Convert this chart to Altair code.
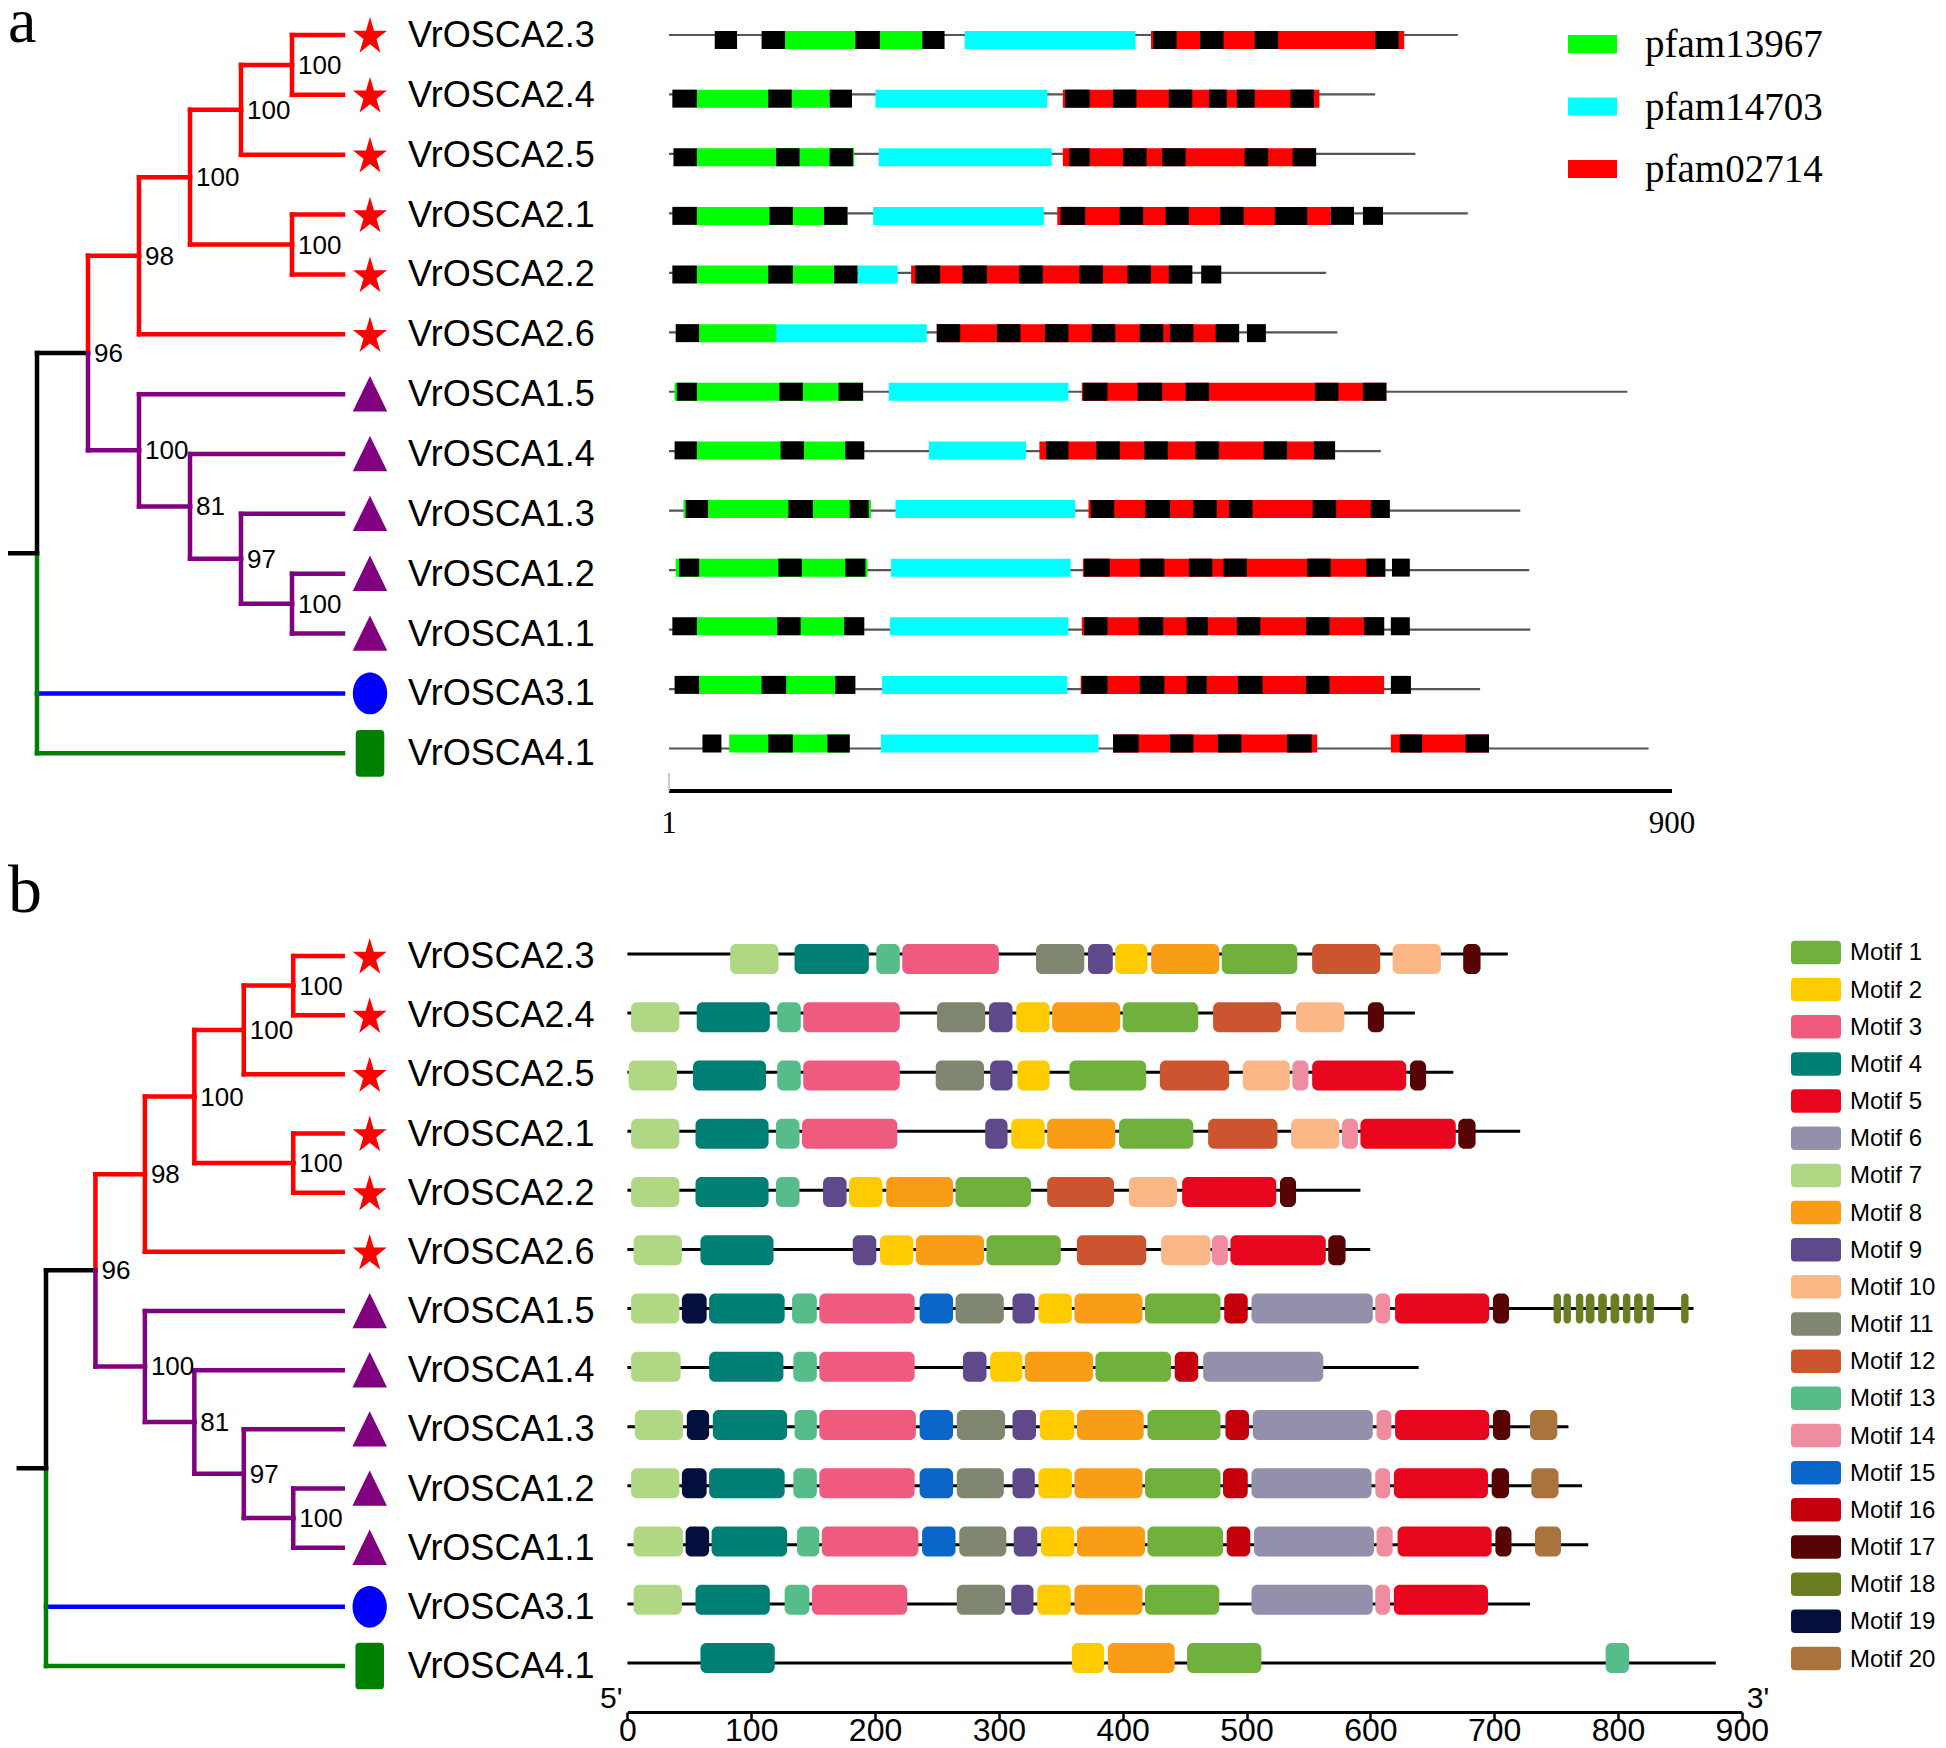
import math
import altair as alt
import pandas as pd

# ---------------- data ----------------
genes = ["VrOSCA2.3", "VrOSCA2.4", "VrOSCA2.5", "VrOSCA2.1", "VrOSCA2.2", "VrOSCA2.6",
         "VrOSCA1.5", "VrOSCA1.4", "VrOSCA1.3", "VrOSCA1.2", "VrOSCA1.1", "VrOSCA3.1", "VrOSCA4.1"]
gene_class = ["OSCA2"] * 6 + ["OSCA1"] * 5 + ["OSCA3", "OSCA4"]

# tree topology (same for both panels)
node_names = ["root", "n96", "n98", "n100a", "n100b", "n100c", "n100d", "n100e", "n81", "n97", "n100f"]
node_depths = [0, 1, 2, 3, 4, 5, 5, 2, 3, 4, 5]
node_children = [["n96", "VrOSCA3.1", "VrOSCA4.1"], ["n98", "n100e"], ["n100a", "VrOSCA2.6"],
                 ["n100b", "n100d"], ["n100c", "VrOSCA2.5"], ["VrOSCA2.3", "VrOSCA2.4"],
                 ["VrOSCA2.1", "VrOSCA2.2"], ["VrOSCA1.5", "n81"], ["VrOSCA1.4", "n97"],
                 ["VrOSCA1.3", "n100f"], ["VrOSCA1.2", "VrOSCA1.1"]]
node_support = [None, 96, 98, 100, 100, 100, 100, 100, 81, 97, 100]
node_clade = ["base", "base", "OSCA2", "OSCA2", "OSCA2", "OSCA2", "OSCA2", "OSCA1", "OSCA1", "OSCA1", "OSCA1"]
tip_depth = 6

# panel a: protein lengths and conserved domains (aa)
a_length = [708, 634, 670, 717, 590, 600, 860, 639, 764, 772, 773, 728, 879]
a_pf13967 = [[104, 228], [26, 145], [26, 167], [26, 161], [26, 149], [28, 97], [6, 174],
             [26, 176], [14, 182], [7, 179], [25, 176], [28, 168], [55, 163]]
a_pf14703 = [[266, 419], [186, 340], [189, 344], [184, 337], [170, 206], [97, 232], [198, 359],
             [234, 321], [204, 365], [200, 361], [199, 359], [192, 358], [191, 386]]
a_pf02714 = [[[433, 660]], [[354, 584]], [[354, 581]], [[349, 594]], [[218, 470]], [[241, 512]],
             [[371, 644]], [[333, 598]], [[377, 647]], [[372, 643]], [[371, 642]], [[370, 642]],
             [[399, 582], [648, 736]]]
a_black = [
    [[42, 62], [84, 105], [168, 190], [228, 248], [435, 456], [477, 498], [526, 547], [634, 655]],
    [[4, 26], [90, 111], [145, 165], [356, 378], [399, 420], [449, 470], [485, 501], [510, 526], [558, 579]],
    [[5, 26], [97, 118], [145, 166], [360, 378], [408, 429], [443, 464], [517, 538], [560, 581]],
    [[4, 26], [91, 112], [140, 161], [352, 374], [405, 426], [446, 467], [495, 516], [544, 573], [594, 615], [623, 641]],
    [[4, 26], [90, 112], [149, 170], [222, 244], [264, 286], [315, 336], [369, 390], [412, 433], [449, 470], [478, 496]],
    [[7, 28], [241, 262], [295, 316], [338, 359], [380, 401], [423, 444], [450, 471], [491, 512], [519, 536]],
    [[8, 26], [100, 121], [153, 175], [372, 394], [421, 443], [464, 485], [580, 601], [623, 644]],
    [[6, 26], [101, 122], [159, 176], [339, 359], [384, 405], [427, 448], [473, 494], [534, 555], [579, 598]],
    [[16, 36], [108, 130], [163, 180], [379, 400], [428, 450], [471, 492], [503, 524], [578, 599], [630, 647]],
    [[10, 28], [99, 120], [159, 177], [373, 396], [423, 445], [467, 488], [498, 519], [573, 594], [626, 643], [649, 665]],
    [[4, 26], [98, 119], [158, 176], [373, 394], [422, 444], [465, 484], [510, 531], [572, 593], [624, 642], [648, 665]],
    [[6, 28], [84, 106], [150, 168], [371, 394], [423, 445], [465, 483], [511, 533], [572, 593], [648, 666]],
    [[31, 48], [90, 112], [143, 163], [399, 422], [450, 471], [493, 514], [555, 577], [656, 676], [715, 736]],
]
pfam_names = ["pfam13967", "pfam14703", "pfam02714"]
a_scale_ticks = [1, 900]

# panel b: motifs (motif number, start, end)
b_length = [711, 636, 667, 721, 592, 600, 861, 639, 760, 771, 776, 729, 879]
mot_2_3 = [(7, 83, 122), (4, 135, 195), (13, 201, 220), (3, 222, 300), (11, 330, 369), (9, 372, 392),
           (2, 394, 420), (8, 423, 478), (1, 480, 541), (12, 553, 608), (10, 618, 657), (17, 675, 689)]
mot_2_4 = [(7, 3, 42), (4, 56, 115), (13, 121, 140), (3, 142, 220), (11, 250, 289), (9, 292, 311),
           (2, 314, 341), (8, 343, 398), (1, 400, 461), (12, 473, 528), (10, 540, 579), (17, 598, 611)]
mot_2_5 = [(7, 1, 40), (4, 53, 112), (13, 121, 140), (3, 142, 220), (11, 249, 288), (9, 293, 311),
           (2, 315, 341), (1, 357, 419), (12, 430, 486), (10, 497, 535), (14, 537, 550), (5, 553, 629),
           (17, 632, 645)]
mot_2_1 = [(7, 3, 42), (4, 55, 114), (13, 120, 139), (3, 141, 218), (9, 289, 307), (2, 310, 337),
           (8, 339, 394), (1, 397, 457), (12, 469, 525), (10, 536, 575), (14, 577, 590), (5, 592, 669),
           (17, 671, 685)]
mot_2_2 = [(7, 3, 42), (4, 55, 114), (13, 120, 139), (9, 158, 177), (2, 179, 206), (8, 209, 263),
           (1, 265, 326), (12, 339, 393), (10, 405, 444), (5, 448, 524), (17, 527, 540)]
mot_2_6 = [(7, 5, 44), (4, 59, 118), (9, 182, 201), (2, 204, 231), (8, 233, 288), (1, 290, 350),
           (12, 363, 419), (10, 431, 471), (14, 472, 485), (5, 487, 564), (17, 566, 580)]
mot_1_5 = [(7, 3, 42), (19, 44, 64), (4, 66, 127), (13, 133, 153), (3, 155, 232), (15, 236, 263),
           (11, 265, 304), (9, 311, 329), (2, 332, 359), (8, 361, 416), (1, 418, 479), (16, 482, 501),
           (6, 504, 602), (14, 604, 616), (5, 620, 696), (17, 699, 712),
           (18, 748, 754), (18, 756, 762), (18, 766, 772), (18, 774, 781), (18, 784, 791),
           (18, 794, 801), (18, 804, 810), (18, 813, 820), (18, 823, 829), (18, 851, 857)]
mot_1_4 = [(7, 3, 43), (4, 66, 126), (13, 134, 153), (3, 155, 232), (9, 271, 290), (2, 293, 319),
           (8, 321, 376), (1, 378, 439), (16, 442, 461), (6, 465, 562)]
mot_1_3 = [(7, 6, 45), (19, 48, 66), (4, 69, 129), (13, 135, 153), (3, 155, 233), (15, 236, 263),
           (11, 266, 305), (9, 311, 330), (2, 333, 361), (8, 363, 417), (1, 420, 479), (16, 483, 502),
           (6, 505, 602), (14, 605, 617), (5, 620, 696), (17, 699, 713), (20, 729, 751)]
mot_1_2 = [(7, 3, 42), (19, 44, 64), (4, 66, 127), (13, 134, 153), (3, 155, 232), (15, 236, 263),
           (11, 266, 304), (9, 311, 329), (2, 332, 359), (8, 361, 416), (1, 418, 479), (16, 481, 501),
           (6, 504, 601), (14, 604, 616), (5, 619, 695), (17, 698, 712), (20, 730, 752)]
mot_1_1 = [(7, 5, 45), (19, 47, 66), (4, 68, 129), (13, 137, 155), (3, 157, 235), (15, 238, 265),
           (11, 268, 306), (9, 312, 331), (2, 334, 361), (8, 363, 418), (1, 420, 481), (16, 484, 503),
           (6, 506, 603), (14, 605, 618), (5, 622, 698), (17, 701, 714), (20, 733, 754)]
mot_3_1 = [(7, 5, 44), (4, 55, 115), (13, 127, 147), (3, 149, 226), (11, 266, 305), (9, 310, 328),
           (2, 331, 358), (8, 361, 416), (1, 418, 478), (6, 504, 602), (14, 604, 616), (5, 619, 695)]
mot_4_1 = [(4, 59, 119), (2, 359, 385), (8, 388, 442), (1, 452, 512), (13, 790, 809)]
b_motifs = [mot_2_3, mot_2_4, mot_2_5, mot_2_1, mot_2_2, mot_2_6, mot_1_5, mot_1_4,
            mot_1_3, mot_1_2, mot_1_1, mot_3_1, mot_4_1]
motif_names = [f"Motif {i}" for i in range(1, 21)]
b_axis_ticks = [0, 100, 200, 300, 400, 500, 600, 700, 800, 900]
b_end_labels = ["5'", "3'"]
b_end_pos = [0, 900]

# ---------------- styles ----------------
clade_colour = {"OSCA2": "#ff0000", "OSCA1": "#800080", "OSCA3": "#0000ff",
                "OSCA4": "#008000", "base": "#000000"}
pfam_colours = ["#00ff00", "#00ffff", "#ff0000"]
motif_colours = ["#70b03c", "#fdcb00", "#ef5b7e", "#007f75", "#e8061e", "#9290ab", "#b0d884",
                 "#f99d17", "#5e4a8a", "#fbb786", "#7f8770", "#cc5530", "#55bc8a", "#f08ca0",
                 "#0a66c8", "#c4000c", "#560404", "#687e20", "#03103e", "#a8733d"]
SANS = "Liberation Sans"
SERIF = "Liberation Serif"


def star_path():
    pts = []
    for k in range(10):
        r = 1.0 if k % 2 == 0 else 0.382
        ang = math.radians(-90 + 36 * k)
        pts.append((r * math.cos(ang), r * math.sin(ang) * 1.1 + 0.1))
    return "M" + " L".join(f"{x:.3f},{y:.3f}" for x, y in pts) + " Z"


marker_shape = {
    "OSCA2": (star_path(), 1280),
    "OSCA1": ("M0,-1.05 L1,1 L-1,1 Z", 1190),
    "OSCA3": ("M-0.823,0 A0.823,1 0 1,0 0.823,0 A0.823,1 0 1,0 -0.823,0 Z", 1740),
    "OSCA4": ("M-0.44,-1 L0.44,-1 Q0.612,-1 0.612,-0.83 L0.612,0.83 Q0.612,1 0.44,1 "
              "L-0.44,1 Q-0.612,1 -0.612,0.83 L-0.612,-0.83 Q-0.612,-1 -0.44,-1 Z", 2180),
}

# ---------------- derived tables ----------------
depth = {g: tip_depth for g in genes}
ypos = {g: i for i, g in enumerate(genes)}
clade = dict(zip(genes, gene_class))
children = dict(zip(node_names, node_children))
for n, d, c in zip(node_names, node_depths, node_clade):
    depth[n] = d
    clade[n] = c


def gety(n):
    if n not in ypos:
        ch = children[n]
        ypos[n] = (gety(ch[0]) + gety(ch[-1])) / 2
    return ypos[n]


for n in node_names:
    gety(n)

segs = []
for n in node_names:
    ch = children[n]
    for k, c in enumerate(ch):
        col = clade_colour[clade[c]]
        segs.append(dict(x1=depth[n], x2=depth[c], y1=ypos[c], y2=ypos[c], colour=col))
        if k in (0, len(ch) - 1):
            segs.append(dict(x1=depth[n], x2=depth[n], y1=ypos[n], y2=ypos[c], colour=col))
segs.append(dict(x1=-0.55, x2=0, y1=ypos["root"], y2=ypos["root"], colour="#000000"))
seg_df = pd.DataFrame(segs)

boot_df = pd.DataFrame([dict(x=depth[n], y=ypos[n], t=str(s))
                        for n, s in zip(node_names, node_support) if s is not None])
tip_df = pd.DataFrame(dict(x=[tip_depth] * len(genes), y=list(range(len(genes))), name=genes,
                           shape=[marker_shape[c][0] for c in gene_class],
                           size=[marker_shape[c][1] for c in gene_class],
                           colour=[clade_colour[c] for c in gene_class]))

a_line_df = pd.DataFrame(dict(row=list(range(len(genes))), s=[1] * len(genes), e=a_length))
dom_rows = []
for i in range(len(genes)):
    dom_rows.append(dict(row=i, s=a_pf13967[i][0], e=a_pf13967[i][1], colour=pfam_colours[0]))
    dom_rows.append(dict(row=i, s=a_pf14703[i][0], e=a_pf14703[i][1], colour=pfam_colours[1]))
    for s, e in a_pf02714[i]:
        dom_rows.append(dict(row=i, s=s, e=e, colour=pfam_colours[2]))
a_dom_df = pd.DataFrame(dom_rows)
a_black_df = pd.DataFrame([dict(row=i, s=s, e=e) for i, lst in enumerate(a_black) for s, e in lst])

b_line_df = pd.DataFrame(dict(row=list(range(len(genes))), s=[0] * len(genes), e=b_length))
b_mot_df = pd.DataFrame([dict(row=i, s=s, e=e, colour=motif_colours[m - 1])
                         for i, lst in enumerate(b_motifs) for m, s, e in lst])

# ---------------- scales (chart origin = page (8, 8)) ----------------
def lin(domain, rng):
    return alt.Scale(domain=domain, range=rng, nice=False, zero=False)


tree_x_a = lin([0, 6], [29, 335])
tree_y_a = lin([0, 12], [27, 745.3])
dom_x_a = lin([1, 900], [661, 1664])
dom_y_a = lin([0, 12], [27, 740.5])
tree_x_b = lin([0, 6], [38, 334.7])
tree_y_b = lin([0, 12], [948, 1658])
mot_x_b = lin([0, 900], [619.4, 1733.8])
mot_y_b = lin([0, 12], [946, 1655])


def tree_layers(xs, ys):
    segs_l = alt.Chart(seg_df).mark_rule(strokeWidth=4.5, strokeCap="square").encode(
        x=alt.X("x1:Q", scale=xs, axis=None), x2="x2:Q",
        y=alt.Y("y1:Q", scale=ys, axis=None), y2="y2:Q",
        color=alt.Color("colour:N", scale=None))
    boot_l = alt.Chart(boot_df).mark_text(align="left", baseline="middle", dx=6, dy=1,
                                          fontSize=26, font=SANS, color="black").encode(
        x=alt.X("x:Q", scale=xs, axis=None), y=alt.Y("y:Q", scale=ys, axis=None), text="t:N")
    mark_l = alt.Chart(tip_df).mark_point(filled=True, opacity=1, strokeWidth=0, xOffset=27).encode(
        x=alt.X("x:Q", scale=xs, axis=None), y=alt.Y("y:Q", scale=ys, axis=None),
        shape=alt.Shape("shape:N", scale=None), size=alt.Size("size:Q", scale=None),
        color=alt.Color("colour:N", scale=None))
    name_l = alt.Chart(tip_df).mark_text(align="left", baseline="middle", dx=65, dy=1,
                                         fontSize=36, font=SANS, color="black").encode(
        x=alt.X("x:Q", scale=xs, axis=None), y=alt.Y("y:Q", scale=ys, axis=None), text="name:N")
    return [segs_l, boot_l, mark_l, name_l]


layers = []
layers += tree_layers(tree_x_a, tree_y_a)
layers += tree_layers(tree_x_b, tree_y_b)

# panel a domains
layers.append(alt.Chart(a_line_df).mark_rule(strokeWidth=2.2, color="#555555").encode(
    x=alt.X("s:Q", scale=dom_x_a, axis=None), x2="e:Q", y=alt.Y("row:Q", scale=dom_y_a, axis=None)))
layers.append(alt.Chart(a_dom_df).mark_bar(orient="horizontal", size=18).encode(
    x=alt.X("s:Q", scale=dom_x_a, axis=None), x2="e:Q", y=alt.Y("row:Q", scale=dom_y_a, axis=None),
    color=alt.Color("colour:N", scale=None)))
layers.append(alt.Chart(a_black_df).mark_bar(orient="horizontal", size=18, color="black").encode(
    x=alt.X("s:Q", scale=dom_x_a, axis=None), x2="e:Q", y=alt.Y("row:Q", scale=dom_y_a, axis=None)))
# panel a scale bar
sb_df = pd.DataFrame(dict(v=a_scale_ticks, t=[str(v) for v in a_scale_ticks]))
layers.append(alt.Chart(sb_df).mark_rule(strokeWidth=4, color="black").encode(
    x=alt.X("min(v):Q", scale=dom_x_a, axis=None), x2="max(v):Q", y=alt.value(783)))
layers.append(alt.Chart(sb_df.head(1)).mark_rule(strokeWidth=1.5, color="#bbbbbb").encode(
    x=alt.X("v:Q", scale=dom_x_a, axis=None), y=alt.value(765), y2=alt.value(783)))
layers.append(alt.Chart(sb_df).mark_text(baseline="middle", fontSize=31, font=SERIF, color="black").encode(
    x=alt.X("v:Q", scale=dom_x_a, axis=None), y=alt.value(816), text="t:N"))
# panel a legend
pf_df = pd.DataFrame(dict(name=pfam_names, colour=pfam_colours))
pf_y = alt.Y("name:N", scale=alt.Scale(type="point", domain=pfam_names, range=[36, 161], padding=0), axis=None)
layers.append(alt.Chart(pf_df).mark_point(filled=True, opacity=1, strokeWidth=0, size=2401,
                                          shape="M-1,-0.367 L1,-0.367 L1,0.367 L-1,0.367 Z").encode(
    x=alt.value(1584.5), y=pf_y, color=alt.Color("colour:N", scale=None)))
layers.append(alt.Chart(pf_df).mark_text(align="left", baseline="middle", dy=1, fontSize=39,
                                         font=SERIF, color="black").encode(
    x=alt.value(1637), y=pf_y, text="name:N"))

# panel b motifs
layers.append(alt.Chart(b_line_df).mark_rule(strokeWidth=3, color="black").encode(
    x=alt.X("s:Q", scale=mot_x_b,
            axis=alt.Axis(values=b_axis_ticks, orient="bottom", title=None, grid=False,
                          domainWidth=3, domainColor="black", tickColor="black", tickWidth=2.5,
                          tickSize=7, labelPadding=-4, labelFontSize=32, labelFont=SANS,
                          labelColor="black", labelFlush=False, labelOverlap=False)),
    x2="e:Q", y=alt.Y("row:Q", scale=mot_y_b, axis=None)))
layers.append(alt.Chart(b_mot_df).mark_bar(orient="horizontal", size=30, cornerRadius=6).encode(
    x=alt.X("s:Q", scale=mot_x_b, axis=None), x2="e:Q", y=alt.Y("row:Q", scale=mot_y_b, axis=None),
    color=alt.Color("colour:N", scale=None)))
end_df = pd.DataFrame(dict(v=b_end_pos, t=b_end_labels))
layers.append(alt.Chart(end_df.head(1)).mark_text(align="right", baseline="alphabetic", dx=-5,
                                                  fontSize=30, font=SANS, color="black").encode(
    x=alt.X("v:Q", scale=mot_x_b, axis=None), y=alt.value(1700), text="t:N"))
layers.append(alt.Chart(end_df.tail(1)).mark_text(align="left", baseline="alphabetic", dx=5,
                                                  fontSize=30, font=SANS, color="black").encode(
    x=alt.X("v:Q", scale=mot_x_b, axis=None), y=alt.value(1700), text="t:N"))
# panel b legend
mo_df = pd.DataFrame(dict(name=motif_names, colour=motif_colours))
mo_y = alt.Y("name:N", scale=alt.Scale(type="point", domain=motif_names, range=[944.4, 1650.5], padding=0), axis=None)
layers.append(alt.Chart(mo_df).mark_point(filled=True, opacity=1, strokeWidth=0, size=2500,
                                          shape="M-0.84,-0.47 L0.84,-0.47 Q1,-0.47 1,-0.31 L1,0.31 Q1,0.47 0.84,0.47 "
                                                "L-0.84,0.47 Q-1,0.47 -1,0.31 L-1,-0.31 Q-1,-0.47 -0.84,-0.47 Z").encode(
    x=alt.value(1808), y=mo_y, color=alt.Color("colour:N", scale=None)))
layers.append(alt.Chart(mo_df).mark_text(align="left", baseline="middle", dy=1, fontSize=24,
                                         font=SANS, color="black").encode(
    x=alt.value(1842), y=mo_y, text="name:N"))

# panel tags
tag_df = pd.DataFrame(dict(t=["a", "b"]))
layers.append(alt.Chart(tag_df.head(1)).mark_text(align="left", baseline="alphabetic", fontSize=64,
                                                  font=SERIF, color="black").encode(
    x=alt.value(0), y=alt.value(34), text="t:N"))
layers.append(alt.Chart(tag_df.tail(1)).mark_text(align="left", baseline="alphabetic", fontSize=68,
                                                  font=SERIF, color="black").encode(
    x=alt.value(0), y=alt.value(904), text="t:N"))

chart = alt.layer(*layers).resolve_scale(x="independent", y="independent").properties(
    width=1930, height=1704, autosize="none",
    padding={"left": 0, "top": 0, "right": 0, "bottom": 36},
    background="white",
).configure_view(stroke=None)

chart.save("out.html", embed_options={"renderer": "svg", "actions": False})
